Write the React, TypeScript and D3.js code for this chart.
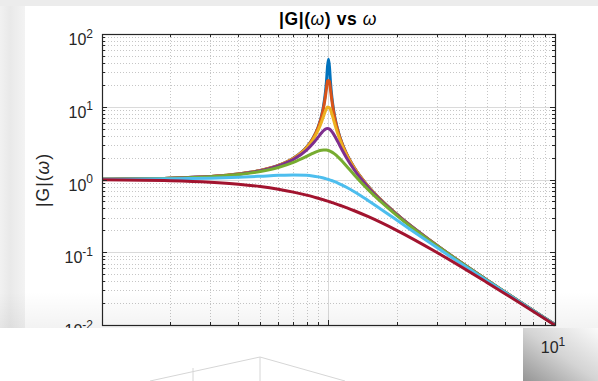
import * as d3 from "d3";

// frequency grid (rad/s) read along the x axis
const omega = [0.1, 0.2, 0.3, 0.4, 0.5, 0.6, 0.7, 0.8, 0.85, 0.9, 0.93, 0.95, 0.97, 0.98, 0.99, 1, 1.01, 1.02, 1.03, 1.05, 1.07, 1.1, 1.15, 1.2, 1.3, 1.5, 2, 3, 5, 10];

// |G| for each damping ratio
const magZeta001 = [1.01, 1.042, 1.099, 1.19, 1.333, 1.563, 1.961, 2.778, 3.597, 5.24, 7.333, 10.07, 16.08, 22.63, 35.6, 45, 35.1, 22.1, 15.56, 9.56, 6.83, 4.736, 3.093, 2.269, 1.448, 0.8, 0.3333, 0.125, 0.04167, 0.0101];
const magZeta002 = [1.01, 1.042, 1.099, 1.19, 1.333, 1.561, 1.958, 2.767, 3.577, 5.171, 7.136, 9.556, 14.14, 17.95, 22.56, 23, 22.16, 17.42, 13.6, 9.028, 6.619, 4.661, 3.07, 2.259, 1.445, 0.799, 0.3332, 0.125, 0.04167, 0.0101];
const magZeta005 = [1.01, 1.041, 1.098, 1.189, 1.33, 1.556, 1.943, 2.712, 3.446, 4.757, 6.097, 7.346, 8.804, 9.461, 9.903, 9.8, 9.711, 9.115, 8.357, 6.815, 5.552, 4.218, 2.921, 2.193, 1.424, 0.794, 0.3326, 0.1249, 0.04166, 0.0101];
const magZeta01 = [1.01, 1.041, 1.097, 1.185, 1.322, 1.536, 1.891, 2.538, 3.073, 3.821, 4.35, 4.683, 4.931, 5.001, 5.025, 5.0, 4.926, 4.809, 4.655, 4.279, 3.869, 3.288, 2.525, 1.995, 1.356, 0.778, 0.3304, 0.1247, 0.04163, 0.0101];
const magZeta02 = [1.009, 1.038, 1.09, 1.17, 1.288, 1.463, 1.719, 2.076, 2.279, 2.457, 2.527, 2.549, 2.548, 2.538, 2.522, 2.5, 2.472, 2.439, 2.401, 2.313, 2.213, 2.051, 1.78, 1.536, 1.157, 0.721, 0.3221, 0.1236, 0.04152, 0.01009];
const magZeta05 = [1.005, 1.02, 1.044, 1.075, 1.109, 1.14, 1.155, 1.14, 1.118, 1.087, 1.064, 1.047, 1.029, 1.02, 1.01, 1.0, 0.99, 0.98, 0.969, 0.948, 0.926, 0.893, 0.837, 0.782, 0.68, 0.512, 0.2774, 0.117, 0.04079, 0.01005];
const magZeta1 = [0.99, 0.962, 0.917, 0.862, 0.8, 0.735, 0.671, 0.61, 0.581, 0.552, 0.536, 0.526, 0.515, 0.51, 0.505, 0.5, 0.495, 0.49, 0.485, 0.476, 0.466, 0.452, 0.431, 0.41, 0.372, 0.308, 0.2, 0.1, 0.0385, 0.0099];

const seriesList = [magZeta001, magZeta002, magZeta005, magZeta01, magZeta02, magZeta05, magZeta1];
const seriesColors = ["#0072BD", "#D95319", "#EDB120", "#7E2F8E", "#77AC30", "#4DBEEE", "#A2142F"];

const xMajor = [0.1, 1, 10];
const yMajor = [0.01, 0.1, 1, 10, 100];
const yTickExp = ["-2", "-1", "0", "1", "2"];

const FONT = "'Liberation Sans', Arial, Helvetica, sans-serif";

function minorTicks(majors: number[]) {
  const out: number[] = [];
  for (let i = 0; i < majors.length - 1; i++) {
    for (let k = 2; k <= 9; k++) out.push(majors[i] * k);
  }
  return out;
}

export default function App() {
  const left = 102, right = 555, top = 34, bottom = 325;

  const x = d3.scaleLog().domain([0.1, 10]).range([left, right]);
  const y = d3.scaleLog().domain([0.01, 100]).range([bottom, top]);

  const px = (v: number) => Math.round(x(v)) + 0.5;
  const py = (v: number) => Math.round(y(v)) + 0.5;

  const xMinor = minorTicks(xMajor);
  const yMinor = minorTicks(yMajor);

  const line = d3.line<number>()
    .x((d, i) => x(omega[i]))
    .y((d) => y(d))
    .curve(d3.curveMonotoneX);

  const axisColor = "#262626";

  return (
    <svg width={598} height={381} style={{ position: "fixed", left: 0, top: 0 }} fontFamily={FONT}>
      <defs>
        <linearGradient id="leftband" x1="0" x2="1" y1="0" y2="0">
          <stop offset="0" stopColor="#f1f1f1" />
          <stop offset="0.4" stopColor="#e9e9e9" />
          <stop offset="1" stopColor="#f3f3f3" />
        </linearGradient>
        <linearGradient id="bottomshade" x1="0" x2="0" y1="0" y2="1">
          <stop offset="0" stopColor="#000" stopOpacity="0" />
          <stop offset="1" stopColor="#000" stopOpacity="0.05" />
        </linearGradient>
        <linearGradient id="cornerbox" x1="0" x2="1" y1="1" y2="0">
          <stop offset="0" stopColor="#959595" />
          <stop offset="0.5" stopColor="#d4d4d4" />
          <stop offset="1" stopColor="#fafafa" />
        </linearGradient>
      </defs>

      {/* window background */}
      <rect x={0} y={0} width={598} height={381} fill="#fff" />
      <rect x={0} y={0} width={598} height={6} fill="#ececec" />
      <rect x={0} y={6} width={25} height={322} fill="url(#leftband)" />

      {/* grid */}
      {xMinor.map((v) => (
        <line key={"gx" + v} x1={px(v)} x2={px(v)} y1={top} y2={bottom} stroke="#b8b8b8" strokeWidth={0.8} strokeDasharray="1,2" />
      ))}
      {yMinor.map((v) => (
        <line key={"gy" + v} x1={left} x2={right} y1={py(v)} y2={py(v)} stroke="#b8b8b8" strokeWidth={0.8} strokeDasharray="1,2" />
      ))}
      {xMajor.map((v) => (
        <line key={"GX" + v} x1={px(v)} x2={px(v)} y1={top} y2={bottom} stroke="#dadada" strokeWidth={1} />
      ))}
      {yMajor.map((v) => (
        <line key={"GY" + v} x1={left} x2={right} y1={py(v)} y2={py(v)} stroke="#dadada" strokeWidth={1} />
      ))}

      {/* curves */}
      {seriesList.map((vals, i) => (
        <path key={"s" + i} d={line(vals) || ""} fill="none" stroke={seriesColors[i]} strokeWidth={3} strokeLinejoin="round" />
      ))}

      {/* ticks */}
      {xMinor.map((v) => (
        <g key={"tx" + v} stroke={axisColor} strokeWidth={1}>
          <line x1={px(v)} x2={px(v)} y1={bottom} y2={bottom - 3} />
          <line x1={px(v)} x2={px(v)} y1={top} y2={top + 3} />
        </g>
      ))}
      {xMajor.map((v) => (
        <g key={"TX" + v} stroke={axisColor} strokeWidth={1}>
          <line x1={px(v)} x2={px(v)} y1={bottom} y2={bottom - 5} />
          <line x1={px(v)} x2={px(v)} y1={top} y2={top + 5} />
        </g>
      ))}
      {yMinor.map((v) => (
        <g key={"ty" + v} stroke={axisColor} strokeWidth={1}>
          <line x1={left} x2={left + 3} y1={py(v)} y2={py(v)} />
          <line x1={right} x2={right - 3} y1={py(v)} y2={py(v)} />
        </g>
      ))}
      {yMajor.map((v) => (
        <g key={"TY" + v} stroke={axisColor} strokeWidth={1}>
          <line x1={left} x2={left + 5} y1={py(v)} y2={py(v)} />
          <line x1={right} x2={right - 5} y1={py(v)} y2={py(v)} />
        </g>
      ))}

      {/* axes box */}
      <rect x={left + 0.5} y={top + 0.5} width={right - left} height={bottom - top} fill="none" stroke={axisColor} strokeWidth={1.2} />

      {/* y tick labels */}
      {yMajor.map((v, i) => (
        <text key={"ly" + v} x={93} y={y(v) + 11} textAnchor="end" fontSize={16} fill="#262626">
          10<tspan fontSize={12} dy={-7.5}>{yTickExp[i]}</tspan>
        </text>
      ))}

      {/* title */}
      <text x={328} y={25} textAnchor="middle" fontSize={17.5} fontWeight="bold" letterSpacing={0.6} fill="#000">
        |G|(<tspan fontStyle="italic" fontWeight="normal">ω</tspan>) vs <tspan fontStyle="italic" fontWeight="normal">ω</tspan>
      </text>

      {/* y label */}
      <text transform="translate(49,180) rotate(-90)" textAnchor="middle" fontSize={17.5} letterSpacing={1} fill="#262626">
        |G|(<tspan fontStyle="italic">ω</tspan>)
      </text>

      {/* shading near bottom of the figure */}
      <rect x={0} y={292} width={598} height={36} fill="url(#bottomshade)" />

      {/* overlapping window below */}
      <rect x={0} y={328} width={523} height={53} fill="#fff" />
      <g stroke="#d6d6d6" strokeWidth={1} fill="none">
        <polyline points="150,381 260,357 345,381" />
        <line x1={260} x2={260} y1={357} y2={381} />
        <line x1={193} x2={193} y1={368} y2={381} />
      </g>
      <rect x={523} y={328} width={75} height={53} fill="url(#cornerbox)" />
      <text x={553} y={353} textAnchor="middle" fontSize={16} fill="#262626">
        10<tspan fontSize={12} dy={-7.5}>1</tspan>
      </text>
    </svg>
  );
}
